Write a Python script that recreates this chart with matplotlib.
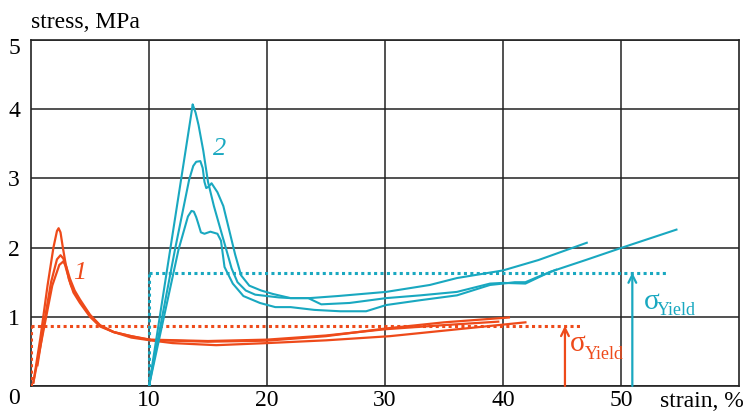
import matplotlib
matplotlib.use("Agg")
import numpy as np
from matplotlib import pyplot as plt
from matplotlib.transforms import ScaledTranslation

# ── data ───────────────────────────────────────────────────────────────
# sample 1 (orange), three runs
o1_x = [0.2, 0.8, 1.4, 1.9, 2.2, 2.34, 2.5, 2.7, 2.9, 3.2, 3.6, 4.15, 5.0, 5.85,
        7.0, 8.5, 10.1, 15.0, 20.0, 25.0, 30.0, 35.0, 40.5]
o1_y = [0.05, 0.7, 1.45, 2.0, 2.24, 2.28, 2.22, 2.0, 1.8, 1.55, 1.35, 1.2, 1.0, 0.86,
        0.78, 0.72, 0.665, 0.64, 0.655, 0.72, 0.83, 0.92, 0.99]
o2_x = [0.55, 1.1, 1.7, 2.2, 2.5, 2.75, 3.0, 3.4, 4.15, 5.0, 5.85, 7.0, 8.5,
        10.1, 15.0, 20.0, 25.0, 30.0, 35.0, 39.6]
o2_y = [0.3, 0.9, 1.5, 1.83, 1.89, 1.84, 1.68, 1.45, 1.22, 1.02, 0.87, 0.78, 0.72,
        0.67, 0.65, 0.67, 0.73, 0.82, 0.88, 0.93]
o3_x = [0.2, 1.0, 1.8, 2.4, 2.74, 3.0, 3.3, 3.7, 4.15, 5.0, 5.85, 7.0, 8.5,
        10.1, 12.0, 15.7, 20.0, 25.0, 30.4, 35.0, 41.9]
o3_y = [0.05, 0.75, 1.45, 1.75, 1.8, 1.72, 1.55, 1.38, 1.25, 1.03, 0.88, 0.78, 0.7,
        0.66, 0.62, 0.59, 0.62, 0.66, 0.72, 0.8, 0.92]

# sample 2 (cyan), three runs
c1_x = [10.0, 13.6, 13.7, 13.8, 13.95, 14.2, 14.6, 15.0, 15.5, 16.0, 16.5, 17.0,
        17.5, 18.2, 19.0, 20.0, 21.0, 22.0, 23.6, 26.0, 30.1, 33.8, 36.1, 40.0,
        43.0, 47.1]
c1_y = [0.0, 3.95, 4.07, 4.02, 3.95, 3.77, 3.4, 2.95, 2.6, 2.3, 2.0, 1.7,
        1.5, 1.38, 1.32, 1.3, 1.28, 1.27, 1.27, 1.3, 1.36, 1.46, 1.56, 1.67,
        1.82, 2.07]
c2_x = [10.0, 12.2, 13.4, 13.75, 14.0, 14.35, 14.55, 14.7, 14.85, 15.05, 15.3,
        15.8, 16.3, 16.8, 17.3, 17.8, 18.5, 19.5, 20.5, 22.0, 23.5, 24.6, 27.0,
        30.1, 33.0, 36.1, 38.9, 40.0, 41.9, 44.0, 47.0, 50.1, 54.7]
c2_y = [0.0, 1.97, 2.98, 3.18, 3.24, 3.25, 3.15, 2.95, 2.86, 2.88, 2.93,
        2.8, 2.6, 2.25, 1.9, 1.6, 1.45, 1.38, 1.33, 1.27, 1.27, 1.18, 1.2,
        1.27, 1.31, 1.36, 1.48, 1.49, 1.48, 1.65, 1.82, 2.0, 2.26]
c3_x = [10.0, 12.5, 13.3, 13.6, 13.8, 14.0, 14.15, 14.4, 14.7, 15.2, 15.8, 16.1,
        16.4, 17.1, 18.0, 19.4, 20.7, 22.0, 24.0, 26.2, 28.4, 30.1, 33.0, 36.1,
        38.9, 40.0, 41.0, 41.9, 43.0, 44.5]
c3_y = [0.0, 1.97, 2.45, 2.53, 2.52, 2.44, 2.36, 2.22, 2.2, 2.23, 2.2, 2.1,
        1.72, 1.48, 1.3, 1.2, 1.14, 1.14, 1.1, 1.08, 1.08, 1.17, 1.24, 1.31,
        1.46, 1.48, 1.5, 1.5, 1.58, 1.68]

# yield levels: (level, start strain, end of dotted line, arrow strain)
yield_1 = (0.87, 0.0, 46.5, 45.25)
yield_2 = (1.64, 10.0, 54.0, 50.96)

x_ticks = [10, 20, 30, 40, 50]
y_ticks = [0, 1, 2, 3, 4, 5]

ORANGE = "#EE4A1A"
CYAN = "#19A8C0"
GRID = "#222222"

plt.rcParams["font.family"] = ["Liberation Serif", "DejaVu Serif"]

fig = plt.figure(figsize=(7.47, 4.11), dpi=100)
ax = fig.add_axes([31 / 747, 1 - 386 / 411, 708 / 747, 346 / 411])
ax.set_xlim(0, 60)
ax.set_ylim(0, 5)

ax.set_xticks(x_ticks)
ax.set_xticklabels([str(t) for t in x_ticks], fontsize=17)
ax.set_yticks(y_ticks)
ax.set_yticklabels([str(t) for t in y_ticks], fontsize=17)
ax.tick_params(length=0, pad=3)
ax.tick_params(axis="y", pad=8)
ax.grid(True, color=GRID, lw=1.1)
ax.set_axisbelow(True)
for s in ax.spines.values():
    s.set_color(GRID)
    s.set_linewidth(1.2)

# nudge the 0 and 5 labels like in the original
for lab in ax.get_yticklabels():
    if lab.get_text() == "0":
        lab.set_transform(lab.get_transform()
                          + ScaledTranslation(0, -10 / 100, fig.dpi_scale_trans))
    if lab.get_text() == "5":
        lab.set_transform(lab.get_transform()
                          + ScaledTranslation(0, -6 / 100, fig.dpi_scale_trans))

# yield dotted lines
for (lvl, x0, x1, xa), col in [(yield_1, ORANGE), (yield_2, CYAN)]:
    ax.hlines(lvl, x0, x1, colors=col, lw=2.2, linestyles=(0, (1, 1.1)), zorder=3)
    ax.vlines(x0, 0, lvl, colors=col, lw=2.2, linestyles=(0, (1, 1.1)), zorder=3)
    ax.annotate("", xy=(xa, lvl), xytext=(xa, 0),
                arrowprops=dict(arrowstyle="->", color=col, lw=1.6,
                                shrinkA=0, shrinkB=0, mutation_scale=14),
                zorder=4)

for xs, ys in [(o1_x, o1_y), (o2_x, o2_y), (o3_x, o3_y)]:
    ax.plot(xs, ys, color=ORANGE, lw=1.6, zorder=5)
for xs, ys in [(c1_x, c1_y), (c2_x, c2_y), (c3_x, c3_y)]:
    ax.plot(xs, ys, color=CYAN, lw=1.5, zorder=5)

ax.text(4.15, 1.63, "1", color=ORANGE, fontsize=19, style="italic",
        ha="center", va="center")
ax.text(16.0, 3.43, "2", color=CYAN, fontsize=19, style="italic",
        ha="center", va="center")

# sigma_Yield labels
ax.text(45.7, 0.61, "σ", color=ORANGE, fontsize=21, ha="left", va="center")
ax.text(46.9, 0.39, "Yield", color=ORANGE, fontsize=13, ha="left", va="baseline")
ax.text(51.9, 1.21, "σ", color=CYAN, fontsize=21, ha="left", va="center")
ax.text(53.0, 1.03, "Yield", color=CYAN, fontsize=13, ha="left", va="baseline")

fig.text(31 / 747, 1 - 28 / 411, "stress, MPa", fontsize=17,
         ha="left", va="baseline")
fig.text(660 / 747, 1 - 401 / 411, "strain, %", fontsize=17,
         ha="left", va="center")

fig.savefig("out.png", dpi=100)
